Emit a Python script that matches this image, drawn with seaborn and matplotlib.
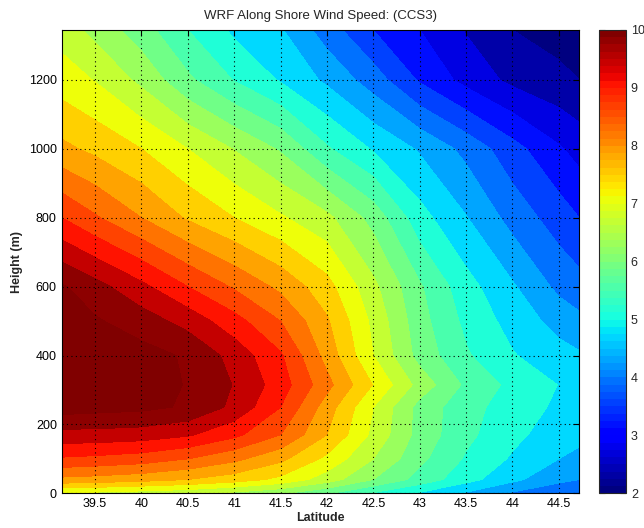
import numpy as np
import pandas as pd
import seaborn as sns
import matplotlib
matplotlib.use('Agg')
import matplotlib.pyplot as plt
from matplotlib.colors import Normalize, ListedColormap
from matplotlib.cm import ScalarMappable

# latitude columns and model heights (m)
lat = [39.14, 39.5, 40.0, 40.5, 41.0, 41.5, 42.0, 42.5, 43.0, 43.5, 44.0, 44.5, 44.72]
height = [0, 40, 100, 170, 250, 315, 400, 500, 600, 800, 1000, 1200, 1345]

# along shore wind speed (m/s), one list per height level
ws_0 = [6.85, 6.80, 6.70, 6.60, 6.40, 6.15, 5.75, 5.25, 4.85, 4.45, 4.05, 3.80, 3.70]
ws_40 = [8.00, 7.95, 7.85, 7.70, 7.50, 7.20, 6.70, 6.10, 5.55, 5.05, 4.60, 4.20, 4.10]
ws_100 = [8.85, 8.80, 8.70, 8.50, 8.20, 7.80, 7.20, 6.50, 5.80, 5.25, 4.85, 4.50, 4.40]
ws_170 = [9.55, 9.55, 9.50, 9.35, 9.00, 8.50, 7.70, 6.80, 5.95, 5.40, 5.00, 4.70, 4.60]
ws_250 = [10.30, 10.25, 10.20, 10.05, 9.60, 8.90, 7.90, 6.90, 5.95, 5.45, 5.10, 4.83, 4.70]
ws_315 = [10.40, 10.35, 10.25, 10.08, 9.68, 9.10, 8.23, 7.28, 6.35, 5.62, 5.19, 4.89, 4.75]
ws_400 = [10.40, 10.35, 10.25, 10.05, 9.55, 8.95, 7.95, 6.90, 5.95, 5.35, 4.93, 4.65, 4.55]
ws_500 = [10.30, 10.15, 9.90, 9.55, 9.05, 8.50, 7.75, 6.80, 5.85, 5.20, 4.75, 4.35, 4.20]
ws_600 = [10.15, 9.85, 9.40, 8.90, 8.45, 8.00, 7.45, 6.60, 5.75, 5.05, 4.55, 4.00, 3.85]
ws_800 = [8.90, 8.55, 8.10, 7.65, 7.30, 6.95, 6.60, 5.95, 5.05, 4.52, 3.95, 3.50, 3.30]
ws_1000 = [7.80, 7.60, 7.30, 6.90, 6.48, 6.05, 5.35, 4.86, 4.45, 3.98, 3.45, 2.95, 2.75]
ws_1200 = [7.10, 6.88, 6.40, 5.78, 5.28, 4.86, 4.42, 3.90, 3.25, 2.77, 2.40, 2.20, 2.10]
ws_1345 = [6.73, 6.37, 5.88, 5.30, 4.82, 4.54, 3.90, 3.30, 2.90, 2.47, 2.10, 1.95, 1.90]

rows = [ws_0, ws_40, ws_100, ws_170, ws_250, ws_315, ws_400,
        ws_500, ws_600, ws_800, ws_1000, ws_1200, ws_1345]

df = pd.DataFrame(rows, index=height, columns=lat)

sns.set_style('white')
plt.rcParams['font.family'] = ['Liberation Sans', 'DejaVu Sans']

fig = plt.figure(figsize=(6.44, 5.28), dpi=100)
ax = fig.add_axes([0.0958, 0.0657, 0.8037, 0.8775])
cax = fig.add_axes([0.930, 0.0657, 0.042, 0.8775])

norm = Normalize(vmin=2, vmax=10)
levels = np.arange(1.7, 10.6, 0.4)
X, Y = np.meshgrid(df.columns.values, df.index.values)
ax.contourf(X, Y, df.values, levels=levels, cmap='jet', norm=norm)

ax.set_xlim(39.14, 44.72)
ax.set_ylim(0, 1345)
ax.set_xticks(np.arange(39.5, 44.6, 0.5))
ax.set_xticklabels(['39.5', '40', '40.5', '41', '41.5', '42', '42.5',
                    '43', '43.5', '44', '44.5'])
ax.set_yticks(np.arange(0, 1201, 200))
ax.grid(True, color='black', linestyle=(0, (1, 3)), linewidth=0.8)
ax.set_axisbelow(False)
ax.tick_params(direction='in', top=True, right=True, length=4,
               labelsize=9, colors='black')
for s in ax.spines.values():
    s.set_color('black')
    s.set_linewidth(0.8)

ax.set_title('WRF Along Shore Wind Speed: (CCS3)', fontsize=9.5, pad=8)
ax.set_xlabel('Latitude', fontsize=9, fontweight='bold', labelpad=1)
ax.set_ylabel('Height (m)', fontsize=9, fontweight='bold', labelpad=4)

jet64 = ListedColormap(plt.get_cmap('jet')(np.linspace(0, 1, 64)))
cb = fig.colorbar(ScalarMappable(norm=norm, cmap=jet64), cax=cax)
cb.set_ticks(range(2, 11))
cb.ax.tick_params(direction='in', left=True, right=True, length=4, labelsize=9)
cb.outline.set_linewidth(0.8)

fig.savefig('out.png', dpi=100, facecolor='white')
